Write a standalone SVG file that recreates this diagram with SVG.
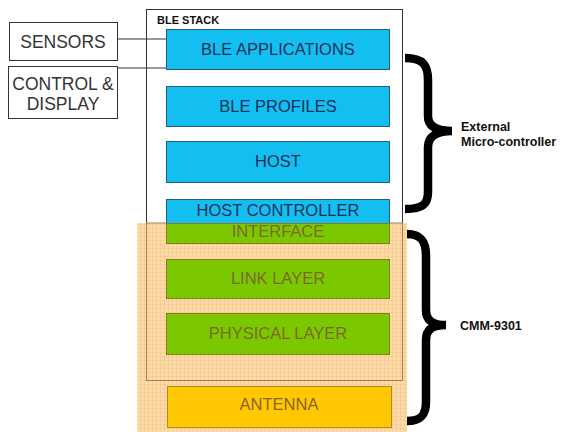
<svg xmlns="http://www.w3.org/2000/svg" width="572" height="432" viewBox="0 0 572 432">
<defs>
<pattern id="grid" width="4" height="4" patternUnits="userSpaceOnUse">
<rect width="4" height="4" fill="#fddcaa"/>
<path d="M0,0.5H4M0.5,0V4" stroke="#f3c488" stroke-width="0.6" fill="none"/>
</pattern>
</defs>
<style>
.t{font-family:"Liberation Sans",Arial,sans-serif;text-anchor:middle}
.blue{fill:#12bff0;stroke:#2a5a7a;stroke-width:1}
.green{fill:#7cc800;stroke:#8a7a20;stroke-width:1}
.bt{font-size:16.5px;fill:#1c2f5a}
.gt{font-size:16.5px;fill:#7a6a28}
.side{fill:#fff;stroke:#333;stroke-width:1}
.st{font-size:17.5px;fill:#333}
.lbl{font-family:"Liberation Sans",Arial,sans-serif;font-weight:bold;font-size:12.5px;fill:#111}
.brace{fill:none;stroke:#000;stroke-width:8.5}
</style>
<rect width="572" height="432" fill="#fff"/>
<g id="ble-stack">
<rect x="146.5" y="9.5" width="256" height="371" fill="#fff" stroke="#333" stroke-width="1"/>
<text x="157" y="24" class="lbl" style="font-size:11px">BLE STACK</text>
</g>
<g id="cmm-region">
<rect x="137" y="223" width="270" height="209" fill="url(#grid)"/>
<rect x="146.5" y="223" width="256" height="157.5" fill="none" stroke="#a08050" stroke-width="1"/>
</g>
<g id="connectors">
<path d="M118,39H166M118,68H166" stroke="#333" stroke-width="1" fill="none"/>
</g>
<g id="sensors">
<rect x="9.5" y="22.5" width="108" height="38" class="side"/>
<text x="63" y="48" class="t st">SENSORS</text>
</g>
<g id="control-display">
<rect x="8.5" y="66.5" width="109" height="52" class="side"/>
<text x="63" y="90" class="t st">CONTROL &amp;</text>
<text x="63" y="110" class="t st">DISPLAY</text>
</g>
<g id="ble-applications">
<rect x="166.5" y="29.5" width="223" height="40" class="blue"/>
<text x="278" y="55" class="t bt">BLE APPLICATIONS</text>
</g>
<g id="ble-profiles">
<rect x="166.5" y="86.5" width="223" height="40" class="blue"/>
<text x="278" y="112" class="t bt">BLE PROFILES</text>
</g>
<g id="host">
<rect x="166.5" y="141.5" width="223" height="41" class="blue"/>
<text x="278" y="167" class="t bt">HOST</text>
</g>
<g id="host-controller">
<rect x="166.5" y="199.5" width="223" height="24" class="blue"/>
<text x="278" y="216" class="t bt">HOST CONTROLLER</text>
</g>
<g id="interface">
<rect x="166.5" y="223.5" width="223" height="20" class="green"/>
<text x="278" y="237" class="t gt">INTERFACE</text>
</g>
<g id="link-layer">
<rect x="166.5" y="259.5" width="223" height="39" class="green"/>
<text x="278" y="284" class="t gt">LINK LAYER</text>
</g>
<g id="physical-layer">
<rect x="166.5" y="313.5" width="223" height="41" class="green"/>
<text x="278" y="339" class="t gt">PHYSICAL LAYER</text>
</g>
<g id="antenna">
<rect x="167.5" y="386.5" width="224" height="41" fill="#ffc800" stroke="#b08a20" stroke-width="1"/>
<text x="279" y="410" class="t" style="font-size:16.5px;fill:#8a6420">ANTENNA</text>
</g>
<g id="external-mcu">
<path class="brace" d="M405,58 C423,58 428,65 428,80 L428,116 C428,126 436,131 452,131 C436,131 428,137 428,147 L428,192 C428,204 423,209 405,209"/>
<text x="461" y="131" class="lbl">External</text>
<text x="461" y="146" class="lbl">Micro-controller</text>
</g>
<g id="cmm-9301">
<path class="brace" d="M407,234 C421,234 426,241 426,256 L426,310 C426,320 432,325 446,325 C432,325 426,330 426,340 L426,402 C426,415 421,421 407,421"/>
<text x="460" y="330" class="lbl">CMM-9301</text>
</g>
</svg>
